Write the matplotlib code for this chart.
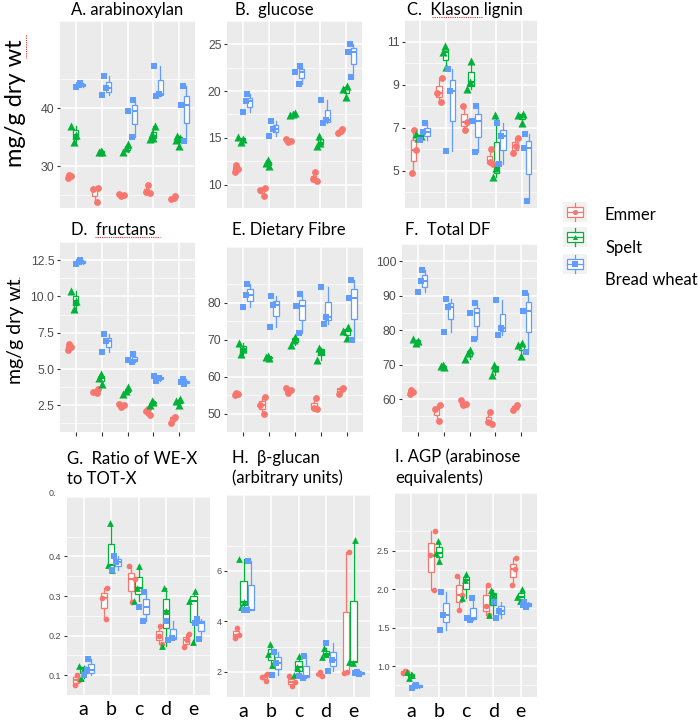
import numpy as np
import matplotlib.pyplot as plt
from matplotlib.lines import Line2D
from matplotlib.patches import Rectangle

W, H = 698, 723

groups = ["a", "b", "c", "d", "e"]
cultivars = ["Emmer", "Spelt", "Bread wheat"]
colors = ["#F8766D", "#00B338", "#619CFF"]
markers = ["o", "^", "s"]

# replicate values per group (a..e) for each cultivar
ara_emmer = [[28.0, 28.3, 28.5], [23.9, 26.0, 26.2], [24.8, 25.0, 25.2], [25.4, 25.6, 26.7], [24.3, 24.6, 24.9]]
ara_spelt = [[34.1, 35.4, 37.0], [32.4, 32.5, 32.6], [32.5, 33.1, 33.8], [34.6, 34.9, 35.6, 37.0], [33.4, 34.5, 34.9, 35.2]]
ara_bread = [[43.7, 44.0, 44.3], [42.3, 43.4, 45.6], [35.1, 39.5, 41.4], [42.0, 42.5, 47.2], [34.3, 40.5, 43.8]]

glc_emmer = [[11.3, 11.7, 12.1], [8.8, 9.4, 9.6], [14.6, 14.7, 14.9], [10.4, 10.6, 11.3], [15.5, 15.7, 15.9]]
glc_spelt = [[14.6, 14.9, 15.1], [12.0, 12.3, 12.6], [17.4, 17.5, 17.7], [14.1, 14.5, 15.2], [19.4, 20.2, 20.6]]
glc_bread = [[17.8, 18.9, 19.7], [15.2, 16.0, 16.8], [20.8, 22.0, 22.7], [16.6, 16.9, 19.0], [21.5, 24.2, 25.0]]

kl_emmer = [[4.9, 5.95, 6.9], [8.2, 8.6, 9.3], [6.9, 7.25, 8.0], [5.3, 5.4, 6.0], [5.8, 6.15, 6.5]]
kl_spelt = [[6.5, 6.6, 6.7], [9.8, 10.5, 10.8], [8.8, 9.1, 10.1], [4.7, 5.1, 7.6], [7.2, 7.6, 7.65]]
kl_bread = [[6.4, 6.8, 7.2], [5.9, 8.7, 9.7], [5.85, 7.3, 8.0], [5.3, 6.6, 7.2], [3.6, 6.05, 6.7]]

fru_emmer = [[6.3, 6.5, 6.7], [3.35, 3.45, 3.6], [2.4, 2.5, 2.6], [1.8, 2.1, 2.25], [1.3, 1.6, 1.7]]
fru_spelt = [[9.1, 9.7, 10.4], [3.95, 4.4, 4.65], [3.3, 3.5, 3.75], [2.55, 2.7, 2.8], [2.55, 2.8, 2.9]]
fru_bread = [[12.2, 12.35, 12.5], [6.2, 6.9, 7.4], [5.45, 5.6, 6.0], [4.2, 4.4, 4.5], [3.95, 4.1, 4.3]]

df_emmer = [[55.0, 55.3, 55.6], [50.0, 52.3, 54.4], [55.5, 56.3, 57.0], [51.1, 51.5, 54.3], [55.3, 56.6, 56.9]]
df_spelt = [[66.0, 67.3, 69.0], [65.0, 65.2, 65.5], [68.4, 70.0, 70.8], [64.4, 67.0, 67.6], [70.3, 72.3, 73.3]]
df_bread = [[78.7, 82.1, 85.1], [73.4, 79.2, 81.7], [71.8, 79.0, 82.3], [74.3, 76.2, 84.2], [69.8, 81.1, 86.1]]

tdf_emmer = [[61.6, 62.0, 62.6], [53.7, 57.1, 58.2], [58.2, 58.7, 59.7], [52.9, 53.3, 56.3], [57.0, 57.8, 58.3]]
tdf_spelt = [[76.3, 76.8, 77.6], [69.2, 69.5, 70.0], [71.8, 73.5, 74.2], [67.1, 69.0, 70.0], [72.6, 75.8, 76.3]]
tdf_bread = [[91.1, 94.2, 97.6], [79.5, 86.8, 89.0], [77.6, 85.0, 87.9], [78.7, 80.6, 88.9], [73.7, 85.5, 90.8]]

ratio_emmer = [[0.074, 0.089, 0.100], [0.243, 0.295, 0.321], [0.284, 0.342, 0.376], [0.179, 0.200, 0.224], [0.170, 0.190, 0.203]]
ratio_spelt = [[0.093, 0.118, 0.124], [0.365, 0.378, 0.485], [0.288, 0.321, 0.376], [0.175, 0.262, 0.321], [0.183, 0.288, 0.312]]
ratio_bread = [[0.100, 0.113, 0.142], [0.365, 0.387, 0.402], [0.236, 0.273, 0.310], [0.190, 0.193, 0.238], [0.192, 0.232, 0.242]]

bg_emmer = [[3.35, 3.45, 3.75], [1.63, 1.80, 1.90], [1.42, 1.60, 1.85], [1.82, 1.90, 2.00], [1.95, 2.0, 6.73]]
bg_spelt = [[4.55, 4.75, 6.45], [2.25, 2.7, 3.1], [1.88, 2.2, 2.64], [2.6, 2.7, 2.95], [2.35, 2.4, 7.2]]
bg_bread = [[4.44, 4.46, 6.40], [1.86, 2.34, 2.80], [1.75, 1.85, 2.64], [2.03, 2.45, 3.13], [1.9, 1.95, 2.0]]

agp_emmer = [[0.91, 0.92, 0.94], [1.99, 2.45, 2.75], [1.73, 1.93, 2.17], [1.66, 1.78, 2.06], [2.05, 2.26, 2.40]]
agp_spelt = [[0.85, 0.88, 0.93], [2.37, 2.47, 2.62], [1.88, 2.12, 2.20], [1.67, 1.92, 1.99], [1.85, 1.90, 2.00]]
agp_bread = [[0.72, 0.74, 0.76], [1.47, 1.67, 1.97], [1.60, 1.62, 1.88], [1.63, 1.72, 1.84], [1.77, 1.80, 1.84]]

ara_ticks = [30, 40]
glc_ticks = [10, 15, 20, 25]
kl_ticks = [5, 7, 9, 11]
fru_ticks = [2.5, 5.0, 7.5, 10.0, 12.5]
df_ticks = [50, 60, 70, 80]
tdf_ticks = [60, 70, 80, 90, 100]
ratio_ticks = [0.1, 0.2, 0.3, 0.4]
bg_ticks = [2, 4, 6]
agp_ticks = [1.0, 1.5, 2.0, 2.5]

# title, series, panel box in px (left, top, right, bottom), ylim, ticks, tick format, row
panels = [
    ("A. arabinoxylan", (ara_emmer, ara_spelt, ara_bread), (60, 21, 195, 208), (22.8, 48.1), ara_ticks, "{:g}", 1),
    ("B.  glucose", (glc_emmer, glc_spelt, glc_bread), (227, 21, 362, 208), (8.0, 25.66), glc_ticks, "{:g}", 1),
    ("C.  Klason lignin", (kl_emmer, kl_spelt, kl_bread), (405, 20, 537, 208), (3.26, 11.04), kl_ticks, "{:g}", 1),
    ("D.  fructans", (fru_emmer, fru_spelt, fru_bread), (60, 242, 195, 432), (0.66, 13.16), fru_ticks, "{:.1f}", 2),
    ("E. Dietary Fibre", (df_emmer, df_spelt, df_bread), (227, 247, 363, 432), (48.1, 87.2), df_ticks, "{:g}", 2),
    ("F.  Total DF", (tdf_emmer, tdf_spelt, tdf_bread), (402, 244, 537, 432), (50.5, 100.3), tdf_ticks, "{:g}", 2),
    ("G.  Ratio of WE-X\nto TOT-X", (ratio_emmer, ratio_spelt, ratio_bread), (67, 497, 210, 695), (0.054, 0.4876), ratio_ticks, "{:.1f}", 3),
    ("H.  \u03b2-glucan\n(arbitrary units)", (bg_emmer, bg_spelt, bg_bread), (227, 495, 370, 697), (1.11, 7.28), bg_ticks, "{:g}", 3),
    ("I. AGP (arabinose\nequivalents)", (agp_emmer, agp_spelt, agp_bread), (395, 493, 537, 697), (0.60, 2.80), agp_ticks, "{:.1f}", 3),
]
title_pos = [(71, 10), (235, 10), (407, 10), (71, 230), (232, 230), (405, 230), (67, 469), (232, 468), (395, 468)]

TITLE_FONT = ["Lato", "DejaVu Sans"]
TICK_FONT = ["Liberation Sans", "DejaVu Sans"]

# fixed jitter pattern for the points
JIT = [[-0.08, 0.06, -0.01, 0.10], [0.05, -0.09, 0.10, -0.03], [-0.02, 0.09, -0.10, 0.04],
       [0.08, -0.04, 0.02, -0.10], [-0.10, 0.01, 0.07, -0.05]]


def px_axes(fig, left, top, right, bottom):
    return fig.add_axes([left / W, 1 - bottom / H, (right - left) / W, (bottom - top) / H])


def draw_panel(ax, series, ylim, ticks, fmt, row):
    ax.set_facecolor("#EBEBEB")
    for s in ax.spines.values():
        s.set_visible(False)
    ax.set_xlim(0.4, 5.6)
    ax.set_ylim(*ylim)
    step = ticks[1] - ticks[0]
    minor = np.arange(ticks[0] - step / 2, ylim[1] + step, step)
    ax.set_yticks(ticks)
    ax.set_yticklabels([fmt.format(t) for t in ticks], family=TICK_FONT)
    ax.set_yticks(minor, minor=True)
    ax.set_xticks(range(1, 6))
    ax.grid(True, which="major", color="white", lw=1.1)
    ax.grid(True, which="minor", axis="y", color="white", lw=0.5)
    ax.tick_params(which="minor", length=0)
    ax.set_axisbelow(True)
    small = row == 3
    ax.tick_params(axis="y", labelsize=6.5 if small else 8.8, labelcolor="#4D4D4D",
                   color="#333333", length=2.5, width=0.8, pad=1.5)
    if row == 1:
        ax.tick_params(axis="x", length=0, labelbottom=False)
    elif row == 2:
        ax.tick_params(axis="x", length=3, width=0.8, color="#333333", labelbottom=False)
    else:
        ax.set_xticklabels(groups, family=TITLE_FONT, fontsize=14)
        ax.tick_params(axis="x", length=0, pad=4)

    sizes = {"o": 24, "^": 34, "s": 22}
    scale = 0.7 if small else 1.0
    for k, vals in enumerate(series):
        col = colors[k]
        pos = np.arange(1, 6) + (k - 1) * 0.27
        ax.boxplot(vals, positions=pos, widths=0.22, patch_artist=True, showfliers=False,
                   showcaps=False, manage_ticks=False, zorder=3,
                   boxprops=dict(facecolor="white", edgecolor=col, lw=0.9),
                   medianprops=dict(color=col, lw=1.5),
                   whiskerprops=dict(color=col, lw=0.9))
        for g, v in enumerate(vals):
            jit = np.array(JIT[(g + 2 * k) % 5][:len(v)])
            xs = g + 1 + (k - 1) * 0.17 - 0.06 + jit
            ax.scatter(xs, v, marker=markers[k], s=sizes[markers[k]] * scale, color=col,
                       linewidths=0, zorder=4)


fig = plt.figure(figsize=(W / 100, H / 100), dpi=100)

for (title, series, box, ylim, ticks, fmt, row), (tx, ty) in zip(panels, title_pos):
    ax = px_axes(fig, *box)
    draw_panel(ax, series, ylim, ticks, fmt, row)
    fig.text(tx / W, 1 - ty / H, title, family=TITLE_FONT, fontsize=12, ha="left", va="center",
             linespacing=1.3)

# clipped tick label left over at the top of panel G
fig.text(56 / W, 1 - 493 / H, "0.", family=TICK_FONT, fontsize=6.5, color="#4D4D4D", ha="right", va="center")

# y axis labels
fig.text(16 / W, 1 - 103 / H, "mg/g dry wt", family=TITLE_FONT, fontsize=17, rotation=90,
         ha="center", va="center")
fig.text(16 / W, 1 - 331 / H, "mg/g dry wt", family=TITLE_FONT, fontsize=14, rotation=90,
         ha="center", va="center")

# legend
leg = px_axes(fig, 560, 195, 592, 280)
leg.set_xlim(560, 592)
leg.set_ylim(280, 195)
leg.axis("off")
key_y = [212, 236.5, 264]
text_y = [215, 248, 280]
for k, cy in enumerate(key_y):
    col = colors[k]
    leg.add_patch(Rectangle((563, cy - 10), 24, 20, facecolor="#F2F2F2", edgecolor="none"))
    leg.add_patch(Rectangle((567, cy - 5), 16, 10, facecolor="white", edgecolor=col, lw=0.9))
    leg.plot([567, 583], [cy, cy], color=col, lw=0.9)
    leg.plot([575, 575], [cy - 9, cy - 5], color=col, lw=0.9)
    leg.plot([575, 575], [cy + 5, cy + 9], color=col, lw=0.9)
    leg.scatter([575], [cy], marker=markers[k], s=14, color=col, linewidths=0, zorder=5)
    fig.text(605 / W, 1 - text_y[k] / H, cultivars[k], family=TITLE_FONT, fontsize=12,
             ha="left", va="center")

# red spell-check underlines kept from the source figure
for x0, y0, x1, y1 in [(26, 35, 26, 58), (19, 277, 19, 297), (95, 237, 160, 237), (432, 17, 482, 17)]:
    fig.add_artist(Line2D([x0 / W, x1 / W], [1 - y0 / H, 1 - y1 / H], color="#E03030", lw=0.8,
                          ls=(0, (1, 1))))

fig.savefig("out.png", dpi=100)
